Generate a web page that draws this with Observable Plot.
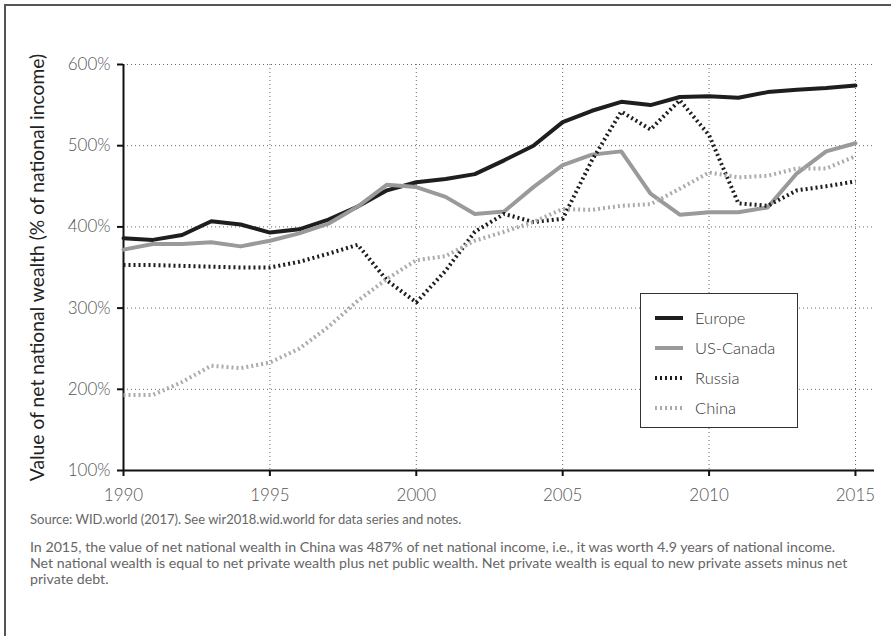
<!DOCTYPE html>
<html>
<head>
<meta charset="utf-8">
<script src="https://cdn.jsdelivr.net/npm/d3@7"></script>
<script src="https://cdn.jsdelivr.net/npm/@observablehq/plot@0.6"></script>
<style>
  html, body { margin: 0; padding: 0; background: #fff; }
  #wrap { position: relative; width: 891px; height: 636px; overflow: hidden; font-family: Lato, "Open Sans", sans-serif; }
  #frame { position: absolute; left: 4px; top: 4px; width: 900px; height: 700px; border-left: 2px solid #555; border-top: 2px solid #555; }
  #chart { position: absolute; left: 0; top: 0; }
  #legend { position: absolute; left: 640px; top: 293px; width: 156px; height: 133px; background: #fff; border: 1.5px solid #333; }
  .lrow { position: absolute; left: 14px; height: 20px; display: flex; align-items: center; font-size: 16.5px; font-weight: 300; color: #333; }
  .lrow svg { margin-right: 12px; }
  #caption { position: absolute; left: 30px; top: 510px; width: 830px; color: #666; }
  #caption p.src { margin: 0 0 11px 0; font-size: 13px; line-height: 18px; }
  #caption p.note { margin: 0; font-size: 14.2px; line-height: 16px; }
</style>
</head>
<body>
<div id="wrap">
  <div id="frame"></div>
  <div id="chart"></div>
  <div id="legend"></div>
  <div id="caption">
    <p class="src">Source: WID.world (2017). See wir2018.wid.world for data series and notes.</p>
    <p class="note">In 2015, the value of net national wealth in China was 487% of net national income, i.e., it was worth 4.9 years of national income. Net national wealth is equal to net private wealth plus net public wealth. Net private wealth is equal to new private assets minus net private debt.</p>
  </div>
</div>
<script>
const years = d3.range(1990, 2016);
const europe   = [386,384,390,407,403,393,397,409,425,445,455,459,465,482,500,529,543,554,550,560,561,559,566,569,571,574];
const usCanada = [372,379,379,381,376,383,392,404,425,452,449,437,416,419,449,476,489,493,441,415,418,418,424,466,493,503];
const russia   = [353,353,352,351,350,350,357,367,378,334,307,346,394,416,406,410,482,542,520,556,513,429,426,445,450,456];
const china    = [193,193,209,229,226,233,250,277,309,336,359,364,383,394,406,422,421,426,428,447,467,461,463,472,472,487];
const xTicks = [1990, 1995, 2000, 2005, 2010, 2015];
const yTicks = [100, 200, 300, 400, 500, 600];
const yLabel = "Value of net national wealth (% of national income)";

const seriesDefs = [
  {name: "Europe", values: europe, stroke: "#1e1e1e", dash: null},
  {name: "US-Canada", values: usCanada, stroke: "#9a9a9a", dash: null},
  {name: "Russia", values: russia, stroke: "#1e1e1e", dash: "2,3"},
  {name: "China", values: china, stroke: "#ababab", dash: "2,3"}
];
const rows = s => years.map((y, i) => ({year: y, value: s.values[i], name: s.name}));

const lineMarks = seriesDefs.map(s => Plot.line(rows(s), {
  x: "year", y: "value", stroke: s.stroke, strokeWidth: 4,
  strokeDasharray: s.dash || undefined, strokeLinejoin: "round", strokeLinecap: s.dash ? "butt" : "round"
}));

const chart = Plot.plot({
  width: 891,
  height: 505,
  marginTop: 64,
  marginBottom: 35,
  marginLeft: 123,
  marginRight: 17,
  style: {fontFamily: "Lato, 'Open Sans', sans-serif", fontSize: "17px", fontWeight: 300, background: "transparent"},
  x: {domain: [1990, 2015.65]},
  y: {domain: [100, 600]},
  marks: [
    Plot.gridY(yTicks.filter(d => d > 100), {stroke: "#666", strokeOpacity: 1, strokeDasharray: "1,3"}),
    Plot.gridX(xTicks.filter(d => d > 1990), {stroke: "#666", strokeOpacity: 1, strokeDasharray: "1,3"}),
    Plot.axisY(yTicks, {tickFormat: d => d + "%", tickSize: 6, tickPadding: 7, stroke: "#111", strokeWidth: 2, fill: "#555", label: null, fontSize: 17}),
    Plot.axisX(xTicks, {tickFormat: d => String(d), tickSize: 6, tickPadding: 12, stroke: "#111", strokeWidth: 2, fill: "#555", label: null, fontSize: 17}),
    Plot.ruleX([1990], {stroke: "#111", strokeWidth: 2}),
    Plot.ruleY([100], {stroke: "#111", strokeWidth: 2}),
    ...lineMarks,
    Plot.text([yLabel], {frameAnchor: "left", rotate: -90, textAnchor: "middle", dx: -86, fontSize: 19.3, fontWeight: 400, fill: "#222"})
  ]
});
document.getElementById("chart").appendChild(chart);

const legend = document.getElementById("legend");
seriesDefs.forEach((s, i) => {
  const row = document.createElement("div");
  row.className = "lrow";
  row.style.top = (14 + i * 30) + "px";
  row.innerHTML = `<svg width="28" height="6"><line x1="0" y1="3" x2="28" y2="3" stroke="${s.stroke}" stroke-width="4" ${s.dash ? `stroke-dasharray="${s.dash}"` : 'stroke-linecap="round"'}/></svg><span>${s.name}</span>`;
  legend.appendChild(row);
});
</script>
</body>
</html>
